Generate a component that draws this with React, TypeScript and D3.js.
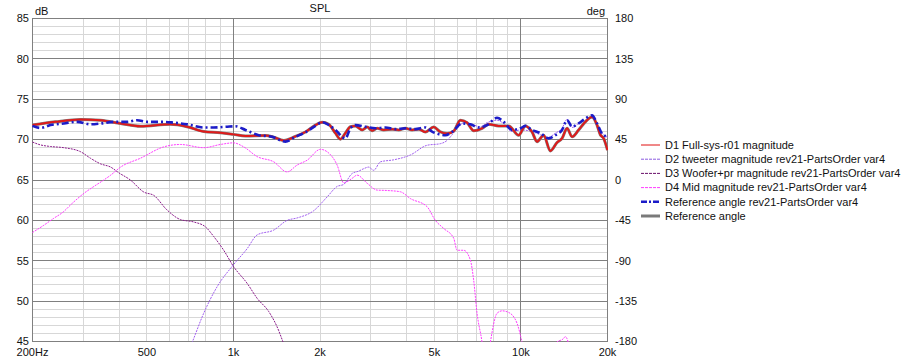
import React, { useEffect, useRef } from 'react';
import * as d3 from 'd3';

// [frequency Hz, dB]
const fullSys: [number, number][] = [
  [200, 71.8], [240, 72.2], [294, 72.5], [345, 72.4], [405, 72.0], [475, 71.65], [604, 71.9],
  [690, 71.6], [788, 71.0], [901, 70.85], [1000, 70.65], [1101, 70.45], [1292, 70.5], [1381, 70.3],
  [1496, 69.9], [1643, 70.4], [1780, 70.95], [1928, 71.8], [2034, 72.15], [2145, 71.9], [2263, 70.8],
  [2355, 70.05], [2451, 70.8], [2551, 71.6], [2656, 71.7], [2802, 71.2], [2917, 71.55], [3036, 71.1],
  [3160, 71.4], [3332, 71.2], [3563, 71.3], [3757, 71.2], [3963, 71.4], [4182, 71.2], [4409, 71.3],
  [4651, 70.95], [4970, 71.55], [5244, 70.95], [5534, 70.75], [5834, 71.05], [6156, 72.4], [6495, 72.1],
  [6847, 71.1], [7323, 71.4], [7722, 71.9], [8364, 71.7], [9062, 71.7], [9817, 70.55], [10358, 71.7],
  [10930, 70.95], [11376, 69.75], [11993, 70.55], [12656, 68.6], [13353, 69.65], [13899, 70.15],
  [14466, 71.4], [15063, 70.35], [15871, 71.2], [16746, 72.2], [17672, 72.8], [18394, 71.8],
  [18886, 70.6], [19393, 70.15], [20000, 68.7],
];

const refVar4: [number, number][] = [
  [200, 71.7], [213, 71.45], [231, 71.8], [257, 72.0], [286, 72.2], [318, 71.9], [345, 72.0],
  [384, 72.2], [427, 72.2], [462, 72.4], [501, 72.2], [572, 72.2], [620, 72.1], [690, 71.9],
  [788, 71.5], [854, 71.5], [951, 71.6], [1016, 71.65], [1101, 71.2], [1224, 70.55], [1363, 70.35],
  [1516, 69.75], [1643, 70.35], [1780, 70.9], [1928, 71.7], [2034, 72.15], [2145, 71.8], [2263, 71.2],
  [2451, 70.15], [2551, 71.4], [2656, 71.8], [2877, 71.6], [3117, 71.4], [3378, 71.5], [3659, 71.3],
  [3963, 71.4], [4294, 71.3], [4651, 71.5], [4907, 71.0], [5459, 70.55], [5760, 70.95], [6240, 72.0],
  [6668, 71.9], [7127, 71.5], [7623, 71.8], [8258, 72.7], [8706, 72.2], [9311, 71.2], [9952, 71.4],
  [10358, 71.7], [10930, 71.2], [11682, 70.8], [12485, 70.15], [13173, 70.55], [13899, 71.2],
  [14466, 72.4], [15063, 71.6], [15871, 72.0], [16746, 72.6], [17672, 73.0], [18394, 72.0],
  [19145, 70.75], [20000, 70.35],
];

const tweeter: [number, number][] = [
  [650, 41], [719, 44.9], [788, 48.5], [878, 51.8], [1000, 54.5], [1116, 56.5], [1209, 58.2],
  [1381, 58.8], [1537, 60.0], [1665, 60.3], [1902, 61.2], [2117, 62.9], [2294, 64.2], [2418, 64.45],
  [2586, 65.8], [2727, 66.1], [2838, 66.4], [2954, 66.6], [3075, 66.2], [3245, 67.25], [3609, 67.5],
  [4125, 68.1], [4714, 69.3], [5244, 69.5], [5534, 69.9], [5760, 70.6], [6073, 71.6], [6408, 72.2],
  [6847, 71.8], [7224, 71.6], [7623, 72.1], [8258, 72.4], [8706, 72.0], [9311, 71.0], [9952, 71.2],
  [10930, 71.0], [11682, 70.6], [12485, 70.3], [13173, 70.8], [13899, 71.4], [14466, 72.5],
  [15063, 71.5], [15871, 72.0], [16746, 72.4], [17672, 72.9], [18394, 71.9], [19145, 70.8], [20000, 70.3],
];

const woofer: [number, number][] = [
  [200, 69.7], [213, 69.35], [231, 69.15], [257, 69.0], [294, 68.5], [318, 67.7], [345, 67.0],
  [374, 66.6], [399, 65.9], [438, 65.0], [488, 63.5], [528, 63.1], [587, 61.3], [654, 60.1],
  [728, 59.8], [799, 59.2], [854, 58.0], [925, 56.3], [1000, 54.3], [1116, 52.2], [1209, 50.35],
  [1327, 48.7], [1419, 46.8], [1489, 44.9], [1600, 42],
];

const mid: [number, number][] = [
  [200, 58.5], [219, 59.4], [237, 60.25], [257, 61.1], [271, 61.9], [302, 63.35], [327, 64.2],
  [354, 65.0], [374, 65.6], [405, 66.6], [475, 67.7], [572, 69.1], [654, 69.4], [788, 69.0],
  [901, 69.4], [1000, 69.6], [1086, 69.1], [1209, 67.9], [1381, 67.25], [1537, 66.0], [1665, 66.85],
  [1804, 67.45], [2007, 68.8], [2117, 68.5], [2294, 66.85], [2418, 64.65], [2586, 65.2], [2692, 65.6],
  [2917, 64.6], [3160, 63.75], [3424, 63.7], [3808, 63.54], [4125, 62.7], [4714, 61.7], [5038, 60.0],
  [5385, 59.0], [5834, 57.8], [5995, 56.3], [6321, 56.3], [6668, 55.1], [6847, 52.6], [7035, 48.5],
  [7323, 44.9], [7550, 41], [7827, 44.9], [8258, 48.5], [8596, 48.8], [9062, 48.6], [9692, 47.25],
  [10088, 44.9], [10600, 41], [12600, 41], [13353, 44.95], [14000, 45.3], [14271, 45.6], [14600, 44.9],
  [15200, 41],
];

const dbTicks = [85, 80, 75, 70, 65, 60, 55, 50, 45];
const degTicks = [180, 135, 90, 45, 0, -45, -90, -135, -180];
const freqTicks = [200, 500, 1000, 2000, 5000, 10000, 20000];
const freqLabels = ['200Hz', '500', '1k', '2k', '5k', '10k', '20k'];

const legendNames = [
  'D1 Full-sys-r01 magnitude',
  'D2 tweeter magnitude rev21-PartsOrder var4',
  'D3 Woofer+pr magnitude rev21-PartsOrder var4',
  'D4 Mid magnitude rev21-PartsOrder var4',
  'Reference angle rev21-PartsOrder var4',
  'Reference angle',
];

const FONT = '"Liberation Sans", Arial, sans-serif';

const App = () => {
  const ref = useRef<SVGSVGElement>(null);

  useEffect(() => {
    const svg = d3.select(ref.current);
    svg.selectAll('*').remove();

    const x = d3.scaleLog().domain([200, 20000]).range([32.5, 607.5]);
    const y = d3.scaleLinear().domain([45, 85]).range([341.5, 18.5]);
    const yDeg = d3.scaleLinear().domain([-180, 180]).range([341.5, 18.5]);
    const px = (v: number) => Math.floor(v) + 0.5;

    svg.append('rect').attr('width', 913).attr('height', 360).attr('fill', '#fff');

    // grid
    const grid = svg.append('g');
    const minorF: number[] = [];
    [100, 1000, 10000].forEach(d => {
      for (let m = 1; m <= 9; m++) {
        const f = m * d;
        if (f > 200 && f < 20000 && f !== 1000 && f !== 10000) minorF.push(f);
      }
    });
    const minorDb = d3.range(46, 85).filter(v => v % 5 !== 0);

    grid.selectAll('.hmin').data(minorDb).enter().append('line')
      .attr('x1', 32).attr('x2', 608)
      .attr('y1', d => px(y(d))).attr('y2', d => px(y(d)))
      .attr('stroke', '#d7d7d7').attr('stroke-width', 1);
    grid.selectAll('.vmin').data(minorF).enter().append('line')
      .attr('y1', 18).attr('y2', 342)
      .attr('x1', d => px(x(d))).attr('x2', d => px(x(d)))
      .attr('stroke', '#d7d7d7').attr('stroke-width', 1);
    grid.selectAll('.hmaj').data(dbTicks).enter().append('line')
      .attr('x1', 32).attr('x2', 608)
      .attr('y1', d => px(y(d))).attr('y2', d => px(y(d)))
      .attr('stroke', '#808080').attr('stroke-width', 1);
    grid.selectAll('.vmaj').data([200, 1000, 10000, 20000]).enter().append('line')
      .attr('y1', 18).attr('y2', 342)
      .attr('x1', d => px(x(d))).attr('x2', d => px(x(d)))
      .attr('stroke', '#808080').attr('stroke-width', 1);

    // curves
    svg.append('clipPath').attr('id', 'plotclip')
      .append('rect').attr('x', 32).attr('y', 18).attr('width', 576).attr('height', 324);

    const line = d3.line<[number, number]>()
      .x(d => x(d[0]))
      .y(d => y(d[1]))
      .curve(d3.curveMonotoneX);

    const curves = svg.append('g').attr('clip-path', 'url(#plotclip)');
    const series: { data: [number, number][]; color: string; width: number; dash: string | null }[] = [
      { data: woofer, color: '#8a1a8a', width: 1, dash: '2,1' },
      { data: mid, color: '#ff3cff', width: 1, dash: '2,1' },
      { data: tweeter, color: '#a15ef0', width: 1, dash: '2,1' },
      { data: fullSys, color: '#808080', width: 3, dash: null },
      { data: fullSys, color: '#e01a1a', width: 2, dash: null },
      { data: refVar4, color: '#1c1cc8', width: 2.6, dash: '7,3,2,3' },
    ];
    series.forEach(s => {
      curves.append('path')
        .attr('d', line(s.data))
        .attr('fill', 'none')
        .attr('stroke', s.color)
        .attr('stroke-width', s.width)
        .attr('stroke-dasharray', s.dash)
        .attr('stroke-linejoin', 'round');
    });

    // axis labels
    const txt = svg.append('g').attr('font-family', FONT).attr('font-size', 11).attr('fill', '#111');
    txt.selectAll('.yl').data(dbTicks).enter().append('text')
      .attr('x', 29).attr('y', d => y(d)).attr('dy', '0.35em')
      .attr('text-anchor', 'end').text(d => d);
    txt.selectAll('.yr').data(degTicks).enter().append('text')
      .attr('x', 615).attr('y', d => yDeg(d)).attr('dy', '0.35em')
      .attr('text-anchor', 'start').text(d => d);
    txt.selectAll('.xl').data(freqTicks).enter().append('text')
      .attr('x', d => x(d)).attr('y', 352).attr('dy', '0.35em')
      .attr('text-anchor', 'middle').text((d, i) => freqLabels[i]);
    txt.append('text').attr('x', 35).attr('y', 11).attr('dy', '0.35em').text('dB');
    txt.append('text').attr('x', 320).attr('y', 8).attr('dy', '0.35em').attr('text-anchor', 'middle').text('SPL');
    txt.append('text').attr('x', 605).attr('y', 11).attr('dy', '0.35em').attr('text-anchor', 'end').text('deg');

    // legend
    const legendStyle = [
      { color: '#e01010', width: 1, dash: null },
      { color: '#8a5ae0', width: 1, dash: '3,1' },
      { color: '#6a106a', width: 1, dash: '3,1' },
      { color: '#ff3cff', width: 1, dash: '3,1' },
      { color: '#1c1cc8', width: 2.5, dash: '6,2,2,2' },
      { color: '#7a7a7a', width: 3, dash: null },
    ];
    const lg = svg.append('g');
    legendNames.forEach((name, i) => {
      const ly = 145 + i * 14.2;
      lg.append('line')
        .attr('x1', 641).attr('x2', 660).attr('y1', ly).attr('y2', ly)
        .attr('stroke', legendStyle[i].color)
        .attr('stroke-width', legendStyle[i].width)
        .attr('stroke-dasharray', legendStyle[i].dash);
      lg.append('text')
        .attr('x', 665).attr('y', ly).attr('dy', '0.35em')
        .attr('font-family', FONT).attr('font-size', 11).attr('fill', '#111')
        .text(name);
    });
  }, []);

  return (
    <svg ref={ref} width={913} height={360} style={{ position: 'absolute', left: 0, top: 0 }} />
  );
};

export default App;
